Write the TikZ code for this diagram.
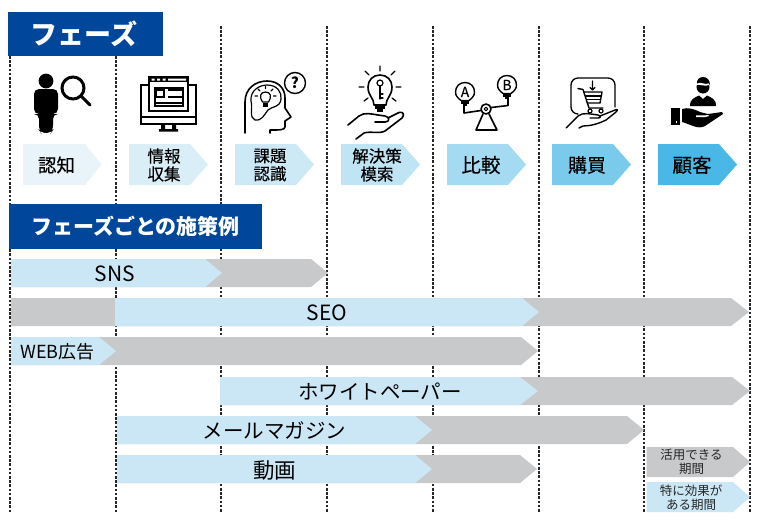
\documentclass[tikz,border=0pt]{standalone}
\usepackage{fontspec}
\setmainfont{Noto Sans CJK JP}
\newfontfamily\medfont[FakeBold=0.35]{Noto Sans CJK JP}
\definecolor{navy}{HTML}{00469B}
\definecolor{barblue}{HTML}{CBE7F5}
\definecolor{bargrey}{HTML}{C8C9CB}
\definecolor{c1}{HTML}{E9F4FA}
\definecolor{c2}{HTML}{DAEEF7}
\definecolor{c3}{HTML}{CDE9F6}
\definecolor{c4}{HTML}{BFE4F4}
\definecolor{c5}{HTML}{A5DBF2}
\definecolor{c6}{HTML}{7ACBEB}
\definecolor{c7}{HTML}{4AB8E6}
\tikzset{
  guide/.style={draw=black!85,line width=1.1pt,dash pattern=on 2.6pt off 1.6pt},
  title/.style={fill=navy,text=white,inner sep=0pt,align=center},
  lab/.style={inner sep=0pt,align=center,text=black},
  ico/.style={draw=black,line width=1.6pt,line cap=round,line join=round,fill=none},
  icob/.style={draw=black,line width=2.6pt,line join=miter}
}
\newcommand{\chev}[6]{\fill[#6] (#1,#4) -- (#2,#4) -- (#3,{(#4+#5)/2}) -- (#2,#5) -- (#1,#5) -- cycle;}
\begin{document}
\begin{tikzpicture}[x=1pt,y=-1pt]
\useasboundingbox (0,0) rectangle (760,520);
\fill[white] (0,0) rectangle (760,520);
% guides
\foreach \n/\x/\t in {g0/10/56,g1/116/56,g2/221/26,g3/327/26,g4/433/26,g5/539/26,g6/644/26,g7/750/26}{
  \coordinate (\n a) at (\x,\t);
  \coordinate (\n b) at (\x,513);
  \draw[guide] (\n a) -- (\n b);
}
% titles
\node[title,minimum width=155pt,minimum height=44pt,font=\bfseries\fontsize{27}{29}\selectfont] (t1) at (85.5,34) {\hspace{-3pt}フェーズ};
\node[title,minimum width=253pt,minimum height=45pt,font=\bfseries\fontsize{21}{23}\selectfont] (t2) at (135.5,226.5) {フェーズごとの施策例};
% phase chevrons
\chev{23}{85}{101.5}{144}{185}{c1}
\chev{129}{190}{208}{144}{185}{c2}
\chev{235}{296}{314}{144}{185}{c3}
\chev{341}{402}{420}{144}{185}{c4}
\chev{447}{508}{526}{144}{185}{c5}
\chev{552}{613}{631}{144}{185}{c6}
\chev{658}{719}{737}{144}{185}{c7}
\node[lab,font=\medfont\fontsize{18.5}{20}\selectfont] (p1) at (56.5,165) {認知};
\node[lab,font=\medfont\fontsize{16.5}{18}\selectfont] (p2) at (164,165) {情報\\収集};
\node[lab,font=\medfont\fontsize{16.5}{18}\selectfont] (p3) at (270,165) {課題\\認識};
\node[lab,font=\medfont\fontsize{16.5}{18}\selectfont] (p4) at (377,165) {解決策\\模索};
\node[lab,font=\medfont\fontsize{19.5}{20}\selectfont] (p5) at (481,165) {比較};
\node[lab,font=\medfont\fontsize{19}{20}\selectfont] (p6) at (587,165) {購買};
\node[lab,font=\medfont\fontsize{19.5}{20}\selectfont] (p7) at (692,165) {顧客};
% bars: grey first, blue on top
\chev{11}{311}{328}{259}{287}{bargrey}
\chev{11}{205}{222}{259}{287}{barblue}
\chev{11}{731}{749}{298}{326}{bargrey}
\chev{115}{522}{539}{298}{326}{barblue}
\chev{11}{521}{538}{337}{365}{bargrey}
\chev{11}{99}{116}{337}{365}{barblue}
\chev{220}{732}{750}{377}{405}{bargrey}
\chev{220}{520}{538}{377}{405}{barblue}
\chev{117}{627}{644}{416}{444}{bargrey}
\chev{117}{415}{432}{416}{444}{barblue}
\chev{117}{520}{537}{455}{483}{bargrey}
\chev{117}{415}{432}{455}{483}{barblue}
\chev{646.5}{733}{750}{447}{477}{bargrey}
\chev{646.5}{733}{750}{482}{512}{barblue}
\node[lab,font=\fontsize{21}{22}\selectfont] (b1) at (115,274) {SNS};
\node[lab,font=\fontsize{21}{22}\selectfont] (b2) at (327,313) {SEO};
\node[lab,font=\fontsize{18}{20}\selectfont] (b3) at (57.5,351.5) {WEB広告};
\node[lab,font=\fontsize{20.5}{22}\selectfont] (b4) at (380,392) {ホワイトペーパー};
\node[lab,font=\fontsize{20.5}{22}\selectfont] (b5) at (274.5,431) {メールマガジン};
\node[lab,font=\fontsize{21.5}{22}\selectfont] (b6) at (274.5,470) {動画};
\node[lab,font=\fontsize{12.5}{14}\selectfont,text=black!85] (l1) at (691.5,462) {活用できる\\期間};
\node[lab,font=\fontsize{12.5}{14}\selectfont,text=black!85] (l2) at (691,497.5) {特に効果が\\ある期間};
% icon 1: person with magnifier
\fill (46,81) circle (7.4);
\fill[rounded corners=5pt] (34,114) -- (34,89) -- (58,89) -- (58,114) -- (53,114) -- (53,130) -- (51,133) -- (41,133) -- (39,130) -- (39,114) -- cycle;
\draw[line width=3pt] (73,88) circle (11);
\draw[line width=3pt,line cap=round] (81,96) -- (90,105);
% icon 2: monitor
\draw[icob] (148,85) -- (141,85) -- (141,124) -- (196,124) -- (196,85) -- (189,85);
\draw[line width=1.8pt] (141,117) -- (196,117);
\draw[icob] (149,111) rectangle (188,77);
\fill (149,77) rectangle (188,82);
\fill[white] (151.5,78.5) rectangle +(3,2.2) (157,78.5) rectangle +(3,2.2) (162.5,78.5) rectangle +(3,2.2) (168,78.5) rectangle +(18,2.2);
\draw[line width=1.8pt] (155,88) rectangle (183,106);
\fill[white] (155.9,88.9) rectangle (182.1,105.1);
\draw[line width=2.2pt] (156,90) rectangle (164,97);
\draw[line width=1.7pt] (168,90) -- (184,90) (168,97) -- (184,97) (154,103) -- (184,103);
\fill (161,125) rectangle (165,131) (172,125) rectangle (176,131) (159,129) rectangle (178,131.5);
% icon 3: head
\draw[ico] (245,133) -- (245,102) .. controls (245,88) and (256,81) .. (267,81) .. controls (279,81) and (285,89) .. (285,98) -- (285,108) -- (291,117) -- (285,121) -- (285,127) .. controls (284,130) and (281,130) .. (270,130) -- (270,133);
\draw[ico,line width=1.2pt] (251,101) .. controls (250,90) and (260,85) .. (267,85) .. controls (277,85) and (282,92) .. (281,99) .. controls (280,108) and (272,106) .. (268,110) .. controls (264,115) and (262,121) .. (255,120) .. controls (249,118) and (253,108) .. (251,101);
\draw[ico,line width=1.2pt] (262.5,102) .. controls (259,97) and (260,92) .. (265.5,92) .. controls (271,92) and (272,97) .. (268.5,102) -- cycle;
\fill (263,103) rectangle (268,106.5);
\draw[ico,line width=1.1pt] (265.5,86.5) -- (265.5,88.5) (258,89) -- (260,91) (273,89) -- (271,91) (255,96) -- (257.5,96) (276,96) -- (273.5,96);
\draw[ico,line width=1.4pt] (295,83) circle (10.5);
\node[lab,font=\bfseries\fontsize{15}{15}\selectfont] (q) at (295,83) {?};
% icon 4: bulb in hand
\draw[ico] (374,105) .. controls (374,98) and (368,96) .. (368,87) .. controls (368,80) and (373,75) .. (380,75) .. controls (387,75) and (392,80) .. (392,87) .. controls (392,96) and (386,98) .. (386,105) -- cycle;
\draw[ico,line width=1.2pt] (380,86) -- (380,99) (380,94) -- (383,94) (380,98) -- (383,98);
\draw[ico,line width=1.2pt] (380,83) circle (3);
\fill (375,105) rectangle (385,109);
\fill (377,109) rectangle (383,112);
\draw[ico,line width=1.3pt] (380,71) -- (380,66) (369,75) -- (365,71) (391,75) -- (395,71) (364,87) -- (359,87) (396,87) -- (401,87) (368,98) -- (364,101) (392,98) -- (396,101);
\draw[ico] (348,125) -- (359,116) .. controls (364,112) and (372,114) .. (378,115) -- (385,116) .. controls (390,117) and (390,122) .. (385,122) -- (375,122) (388,118) -- (399,112.5) .. controls (403,111) and (405,115) .. (402,118) -- (385,131) .. controls (380,134) and (370,131) .. (364,133) -- (356,139);
% icon 5: balance
\foreach \cx/\cy/\bn/\t in {465/92/ba/A,507/85/bb/B}{
  \draw[ico,line width=1.4pt] (\cx-4,\cy+8.5) .. controls (\cx-7,\cy+6) and (\cx-9.5,\cy+4) .. (\cx-9.5,\cy) .. controls (\cx-9.5,\cy-5.5) and (\cx-5.5,\cy-9.5) .. (\cx,\cy-9.5) .. controls (\cx+5.5,\cy-9.5) and (\cx+9.5,\cy-5.5) .. (\cx+9.5,\cy) .. controls (\cx+9.5,\cy+4) and (\cx+7,\cy+6) .. (\cx+4,\cy+8.5) -- cycle;
  \fill (\cx-4,\cy+9) rectangle (\cx+4,\cy+12);
  \fill (\cx-2,\cy+12) rectangle (\cx+2,\cy+14);
  \node[lab,font=\medfont\fontsize{14}{14}\selectfont] (\bn) at (\cx,\cy) {\t};
}
\draw[ico] (464,106) -- (464,113) -- (481,110.5) (491,107.5) -- (508,105.5) -- (508,99);
\draw[ico] (486,109) circle (5);
\draw[ico,line width=1.1pt] (486,109) circle (1.8);
\draw[ico] (483,114) -- (476,130) -- (497,130) -- (489,114);
% icon 6: cart in hand
\draw[ico,line width=1.3pt,rounded corners=7pt] (578,114) -- (571,114) -- (571,78) -- (615,78) -- (615,107);
\draw[ico,line width=1.4pt] (578,88.5) -- (583,89.5) -- (589,108) -- (603,108);
\draw[ico,line width=1.4pt] (584,92) -- (602,92) -- (600,103) -- (587,103);
\draw[ico,line width=1.4pt] (586,96) -- (601,96) (587,99.5) -- (600,99.5);
\draw[ico,line width=1.2pt] (590,111) circle (2) (601,111) circle (2);
\draw[ico,line width=1.2pt] (592.5,81) -- (592.5,90) (590,87.5) -- (592.5,90) -- (595,87.5);
\draw[ico,line width=1.4pt] (566,128) -- (578,116) .. controls (583,112) and (590,114) .. (598,115) .. controls (601,116) and (601,118) .. (598,118) -- (590,118) (600,116) -- (615,110) .. controls (618,109) and (618,110) .. (616,112) -- (606,120) .. controls (598,124) and (590,126) .. (583,126) -- (579,128);
% icon 7: customer
\fill (703,87) circle (6.5);
\fill (697,85) .. controls (696,79) and (700,77) .. (703,77) .. controls (707,77) and (710,80) .. (710,85) -- (708,83) -- (700,81.5) -- cycle;
\fill[white] (697,83.5) .. controls (700,81.5) and (705,85) .. (709,83.5) -- (709,85) .. controls (705,87) and (700,84) .. (697,85) -- cycle;
\fill (690,106) .. controls (690,99) and (694,98) .. (699,95.5) -- (703,99) -- (707,95.5) .. controls (712,98) and (716,99) .. (716,106) -- cycle;
\fill (671,108) rectangle (680,125);
\fill[white] (676,121) rectangle (677,123);
\fill (682,109) .. controls (688,107) and (694,109) .. (700,112) -- (708,114) -- (722,112) -- (723,114) -- (705,126) .. controls (698,130) and (690,124) .. (682,122) -- cycle;
\fill[white] (696,115.5) .. controls (700,115) and (704,116) .. (708,115) -- (709,116) .. controls (704,118) and (700,117) .. (696,117) -- cycle;
\end{tikzpicture}
\end{document}
